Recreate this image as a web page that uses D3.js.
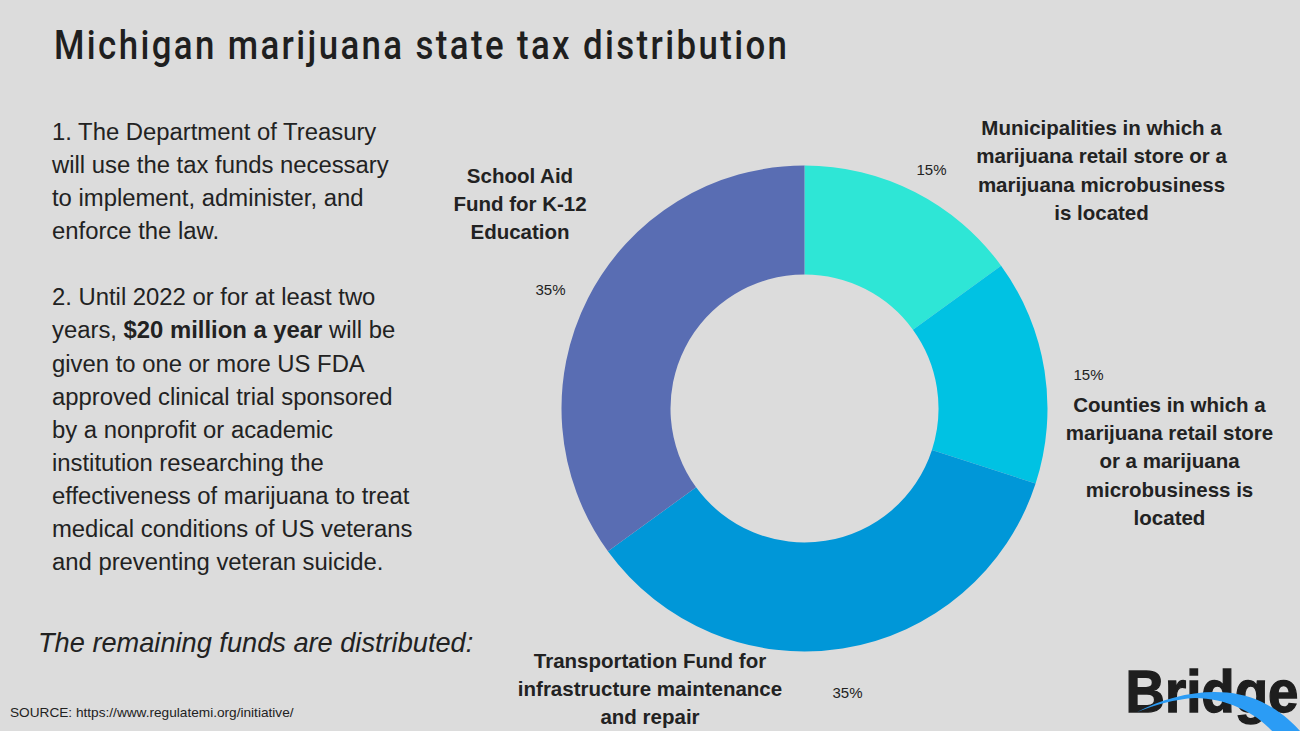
<!DOCTYPE html>
<html><head><meta charset="utf-8">
<script src="https://cdn.jsdelivr.net/npm/d3@7"></script>
<style>
html,body{margin:0;padding:0;background:#dcdcdc;overflow:hidden}
text{font-family:"Liberation Sans",Arial,sans-serif;fill:#222}
</style></head><body><svg id="c" width="1300" height="731"></svg>
<script>
const categories=["Municipalities","Counties","Transportation","School Aid"];
const seriesValues=[15,15,35,35];
const sliceColors=["#2ee6d6","#00c2e3","#0097d8","#596db3"];
const valueLabels=["15%","15%","35%","35%"];
const titleText="Michigan marijuana state tax distribution";
const bodyLines=[["1. The Department of Treasury"],["will use the tax funds necessary"],["to implement, administer, and"],["enforce the law."],[""],["2. Until 2022 or for at least two"],["years, ","$20 million a year"," will be"],["given to one or more US FDA"],["approved clinical trial sponsored"],["by a nonprofit or academic"],["institution researching the"],["effectiveness of marijuana to treat"],["medical conditions of US veterans"],["and preventing veteran suicide."]];
const catLabels=[
 {lines:["Municipalities in which a","marijuana retail store or a","marijuana microbusiness","is located"],x:1101.5,y:135},
 {lines:["Counties in which a","marijuana retail store","or a marijuana","microbusiness is","located"],x:1169.5,y:411.5},
 {lines:["Transportation Fund for","infrastructure maintenance","and repair"],x:650,y:667.5},
 {lines:["School Aid","Fund for K-12","Education"],x:520,y:182.5}];
const pctPos=[[931.5,175],[1088.5,380],[847.5,698],[550.5,295]];
const svg=d3.select("#c");
svg.append("text").attr("transform","translate(54,59) scale(0.85,1)").attr("font-size",41).attr("textLength",733/0.85).attr("lengthAdjust","spacing")
 .style("font-family","Roboto,sans-serif").style("font-weight",500).style("fill","#1f1f1f").text(titleText);
const body=svg.append("g");
bodyLines.forEach((l,i)=>{const t=body.append("text").attr("x",52).attr("y",139.5+i*33.15).attr("font-size",23.85);
 l.forEach(s=>t.append("tspan").attr("font-weight",s.startsWith("$")?"bold":"normal").text(s));});
svg.append("text").attr("x",38).attr("y",652).attr("font-size",27.2).attr("font-style","italic").text("The remaining funds are distributed:");
svg.append("text").attr("x",10).attr("y",716.5).attr("font-size",13.65).text("SOURCE: https://www.regulatemi.org/initiative/");
const pie=d3.pie().sort(null).value(d=>d);
const arc=d3.arc().innerRadius(134).outerRadius(243);
const g=svg.append("g").attr("transform","translate(804.5,408.5)");
g.selectAll("path").data(pie(seriesValues)).join("path").attr("d",arc).attr("fill",(d,i)=>sliceColors[i]);
valueLabels.forEach((v,i)=>svg.append("text").attr("x",pctPos[i][0]).attr("y",pctPos[i][1]).attr("text-anchor","middle").attr("font-size",15).text(v));
catLabels.forEach(c=>c.lines.forEach((s,i)=>svg.append("text").attr("x",c.x).attr("y",c.y+i*28.4).attr("text-anchor","middle").attr("font-size",20.5).attr("font-weight","bold").text(s)));
const logo=svg.append("g");
logo.append("text").attr("transform","translate(1125.5,712) scale(0.91,1)").attr("font-size",60).attr("font-weight","bold").style("fill","#1e1e1e").style("stroke","#1e1e1e").style("stroke-width",1.4).text("Bridge");
logo.append("path").attr("d","M1137,712 C1175,692 1225,684 1262,702 C1280,711 1292,722 1300,731 L1272,731 C1255,712 1225,698 1195,698 C1175,699 1155,705 1137,712 Z").attr("fill","#2b9cf5");
</script></body></html>
